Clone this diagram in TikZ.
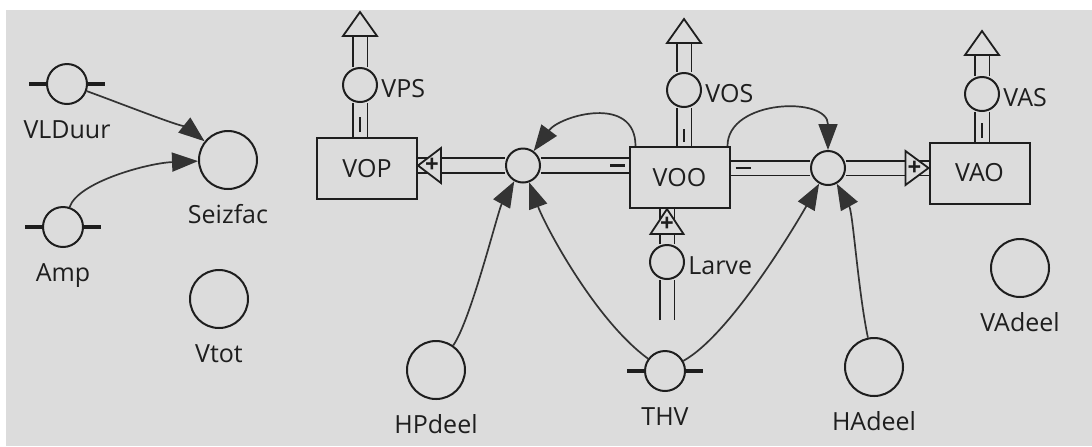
\documentclass[tikz,border=0pt]{standalone}
\usepackage{fontspec}
\setmainfont{Open Sans}
\usetikzlibrary{positioning,arrows.meta,calc}
\definecolor{panel}{HTML}{DCDCDC}
\definecolor{ink}{HTML}{1E1E1E}
\pgfdeclarelayer{back}
\pgfdeclarelayer{pipes}
\pgfsetlayers{back,pipes,main}

\begin{document}
\begin{tikzpicture}[
  x=0.5pt, y=-0.5pt,
  font=\fontsize{12.5}{15}\selectfont,
  stock/.style={draw=ink, line width=1pt, fill=panel, text=ink, minimum width=50pt, minimum height=30.5pt, inner sep=0pt},
  valve/.style={circle, draw=ink, line width=1pt, fill=panel, minimum size=17pt, inner sep=0pt},
  aux/.style={circle, draw=ink, line width=1pt, fill=panel, minimum size=29pt, inner sep=0pt},
  const/.style={circle, draw=ink, line width=1pt, fill=panel, minimum size=20pt, inner sep=0pt},
  lbl/.style={inner sep=0pt, text=ink, anchor=base},
  vlbl/.style={inner sep=0pt, text=ink, anchor=west, yshift=-2pt},
  pipe/.style={draw=ink, line width=0.9pt, double=panel, double distance=6.5pt},
  head/.style={draw=ink, line width=0.9pt, fill=panel, line join=miter},
  plus/.style={inner sep=0pt, text=ink, font=\fontsize{12}{12}\selectfont\bfseries},
  bar/.style={ink, line width=2pt},
  sign/.style={ink, line width=1.1pt},
  info/.style={draw=black!80, line width=0.85pt, -{Triangle[length=13pt,width=9.5pt]}}]

  \useasboundingbox (0,0) rectangle (1092,446);
  \begin{pgfonlayer}{back}
    \fill[panel] (6,10) rectangle (1092,446);
  \end{pgfonlayer}

  % stocks
  \node[stock] (vop) at (367,168.5) {VOP};
  \node[stock] (voo) at (679.5,177.5) {VOO};
  \node[stock] (vao) at (979.5,173) {VAO};

  % flows
  \node[valve] (vps) at (360,85) {};
  \node[valve] (vos) at (684,90) {};
  \node[valve] (vas) at (982,94) {};
  \node[valve] (larve) at (667,262) {};
  \node[valve] (toop) at (523,165.5) {};
  \node[valve] (toao) at (828,168) {};
  \coordinate (vpstop) at (360,36);
  \coordinate (vostop) at (684,43);
  \coordinate (vastop) at (982,55);
  \coordinate (larvebot) at (667,320);

  \node[right=1.5pt of vps, vlbl] (vps-l) {VPS};
  \node[right=1.5pt of vos, vlbl] (vos-l) {VOS};
  \node[right=1.5pt of vas, vlbl] (vas-l) {VAS};
  \node[right=1.5pt of larve, vlbl] (larve-l) {Larve};

  % auxiliaries and constants
  \node[const] (vlduur) at (67,84) {};
  \node[const] (amp) at (63,227) {};
  \node[const] (thv) at (665,371) {};
  \node[aux] (seizfac) at (228,160) {};
  \node[aux] (vtot) at (219,299) {};
  \node[aux] (hpdeel) at (436,370) {};
  \node[aux] (hadeel) at (874,367) {};
  \node[aux] (vadeel) at (1020,268) {};

  \foreach \n/\t in {vlduur/VLDuur, amp/Amp, thv/THV, seizfac/Seizfac, vtot/Vtot,
                     hpdeel/HPdeel, hadeel/HAdeel, vadeel/VAdeel}
    \node[below=16.5pt of \n, lbl] (\n-l) {\t};

  \foreach \n in {vlduur, amp, thv} {
    \draw[bar] (\n.west) -- ++(-17,0);
    \draw[bar] (\n.east) -- ++(17,0);
  }

  % pipes
  \begin{pgfonlayer}{pipes}
    \draw[pipe] (toop) -- (toop -| vop.east);
    \draw[pipe] (toop) -- (toop -| voo.west);
    \draw[pipe] (toao) -- (toao -| voo.east);
    \draw[pipe] (toao) -- (toao -| vao.west);
    \draw[pipe] (vpstop) -- (vps) -- (vps |- vop.north);
    \draw[pipe] (vostop) -- (vos) -- (vos |- voo.north);
    \draw[pipe] (vastop) -- (vas) -- (vas |- vao.north);
    \draw[pipe] (larvebot) -- (larve) -- (larve |- voo.south);
  \end{pgfonlayer}

  \foreach \c in {vpstop, vostop, vastop}
    \draw[head] ($(\c)+(-17,0)$) -- ($(\c)+(17,0)$) -- ($(\c)+(0,-24)$) -- cycle;

  \draw[head] (toop -| vop.east) -- ++(23,-17.5) -- ++(0,35) -- cycle;
  \node[plus] at ($(toop -| vop.east)+(14,0)$) {+};
  \draw[head] (toao -| vao.west) -- ++(-23,-17) -- ++(0,34) -- cycle;
  \node[plus] at ($(toao -| vao.west)+(-14,0)$) {+};
  \draw[head] (larve |- voo.south) -- ++(-16.5,25) -- ++(33,0) -- cycle;
  \node[plus] at ($(larve |- voo.south)+(0,15)$) {+};

  % outflow marks
  \draw[sign] ($(vps |- vop.north)+(0,-5)$) -- ++(0,-15);
  \draw[sign] ($(vos |- voo.north)+(0,-4)$) -- ++(0,-13);
  \draw[sign] ($(vas |- vao.north)+(0,-4)$) -- ++(0,-15);
  \draw[sign] ($(toop -| voo.west)+(-4,0)$) -- ++(-15,0);
  \draw[sign] ($(toao -| voo.east)+(5,0)$) -- ++(15,0);

  % information links
  \draw[info] (vlduur) .. controls +(50,18) and +(-35,-28) .. (seizfac);
  \draw[info] (amp) .. controls +(15,-45) and +(-80,3) .. (seizfac);
  \draw[info] ([xshift=3.5pt]voo.north west) .. controls +(0,-52) and +(37,-50) .. (toop);
  \draw[info] ([xshift=-1.5pt]voo.north east) .. controls +(0,-47) and +(0,-72) .. (toao);
  \draw[info] (hpdeel) .. controls +(35,-50) and +(-25,45) .. (toop);
  \draw[info] (thv) .. controls +(-70,-51) and +(22,60) .. (toop);
  \draw[info] (thv) .. controls +(65,-36) and +(-33,58) .. (toao);
  \draw[info] (hadeel) .. controls +(-16,-77) and +(25,45) .. (toao);
\end{tikzpicture}
\end{document}
